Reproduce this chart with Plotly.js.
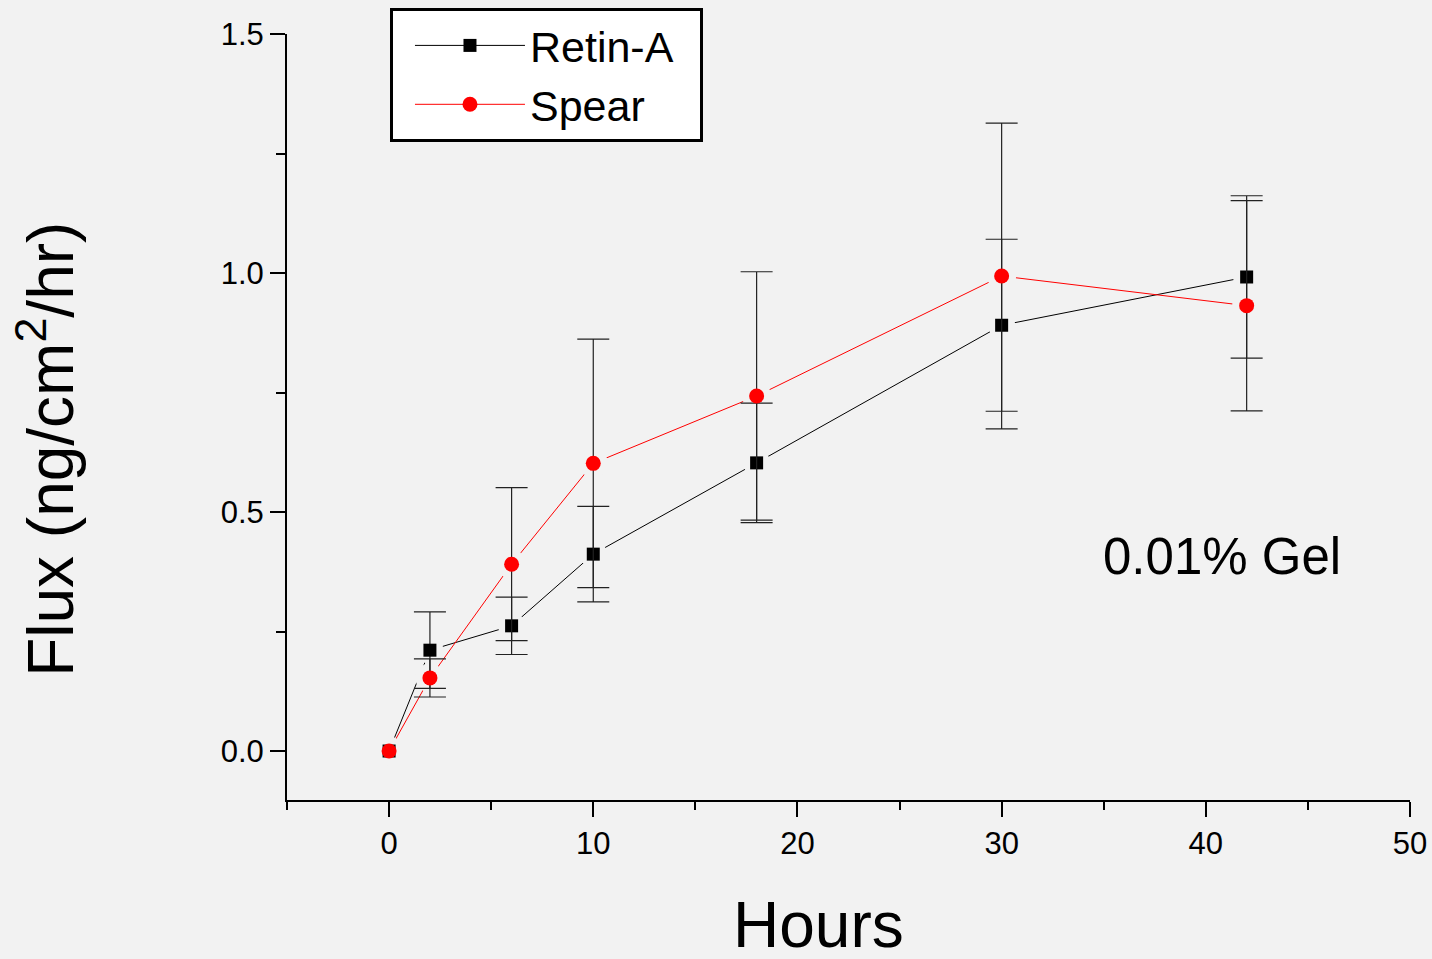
<!DOCTYPE html>
<html>
<head>
<meta charset="utf-8">
<script src="https://cdn.plot.ly/plotly-3.0.1.min.js"></script>
<style>
  html, body { margin: 0; padding: 0; background: #f2f2f2; }
  #chart { width: 1432px; height: 959px; }
</style>
</head>
<body>
<div id="chart"></div>
<script>
// ---- data ----
const hours = [0, 2, 6, 10, 18, 30, 42];
const retinA = [0, 0.211, 0.262, 0.412, 0.603, 0.891, 0.992];
const retinAErr = [NaN, 0.08, 0.06, 0.10, 0.125, 0.18, 0.17];
const spear = [0, 0.153, 0.391, 0.602, 0.743, 0.994, 0.932];
const spearErr = [NaN, 0.04, 0.16, 0.26, 0.26, 0.32, 0.22];
const seriesNames = ['Retin-A', 'Spear'];
const xTitle = 'Hours';
const yTitle = 'Flux (ng/cm<sup>2</sup>/hr)';
const noteText = '0.01% Gel';

const BG = '#f2f2f2';
const FONT = 'Arial, "Liberation Sans", sans-serif';
const PAD = '\u2002';

const traces = [
  // connecting lines (with markers, used for the legend)
  { x: hours, y: retinA, name: seriesNames[0] + PAD, mode: 'lines+markers',
    line: { color: '#000000', width: 1 },
    marker: { symbol: 'square', size: 13, color: '#000000' } },
  { x: hours, y: spear, name: seriesNames[1] + PAD, mode: 'lines+markers',
    line: { color: '#ff0000', width: 1 },
    marker: { symbol: 'circle', size: 15, color: '#ff0000' } },
  // halos giving the gap between line and marker
  { x: hours, y: retinA, mode: 'markers', showlegend: false, hoverinfo: 'skip',
    marker: { symbol: 'circle', size: 27, color: BG } },
  { x: hours, y: spear, mode: 'markers', showlegend: false, hoverinfo: 'skip',
    marker: { symbol: 'circle', size: 29, color: BG } },
  // markers with error bars
  { x: hours, y: retinA, mode: 'markers', showlegend: false,
    marker: { symbol: 'square', size: 13, color: '#000000' },
    error_y: { type: 'data', array: retinAErr, visible: true, color: '#222222', thickness: 1.2, width: 16 } },
  { x: hours, y: spear, mode: 'markers', showlegend: false,
    marker: { symbol: 'circle', size: 15, color: '#ff0000' },
    error_y: { type: 'data', array: spearErr, visible: true, color: '#222222', thickness: 1.2, width: 16 } }
];

const layout = {
  width: 1432, height: 959,
  paper_bgcolor: BG, plot_bgcolor: BG,
  font: { family: FONT, color: '#000000' },
  margin: { l: 287, r: 22, t: 34, b: 159, autoexpand: false },
  showlegend: true,
  legend: {
    x: 0.0917, y: 1.034, xanchor: 'left', yanchor: 'top',
    bgcolor: '#ffffff', bordercolor: '#000000', borderwidth: 3,
    font: { family: FONT, size: 43, color: '#000000' },
    itemwidth: 110, indentation: 17
  },
  xaxis: {
    range: [-5, 50], tick0: 0, dtick: 10,
    showgrid: false, zeroline: false,
    showline: true, linecolor: '#000000', linewidth: 2,
    ticks: 'outside', ticklen: 15, tickwidth: 2, tickcolor: '#000000',
    minor: { dtick: 5, tick0: 0, ticks: 'outside', ticklen: 8, tickwidth: 2, tickcolor: '#000000' },
    tickfont: { family: FONT, size: 31, color: '#000000' },
    automargin: false
  },
  yaxis: {
    range: [-0.1025, 1.5005], tick0: 0, dtick: 0.5, tickformat: '.1f',
    showgrid: false, zeroline: false,
    showline: true, linecolor: '#000000', linewidth: 2,
    ticks: 'outside', ticklen: 15, tickwidth: 2, tickcolor: '#000000',
    minor: { dtick: 0.25, tick0: 0, ticks: 'outside', ticklen: 9, tickwidth: 2, tickcolor: '#000000' },
    tickfont: { family: FONT, size: 31, color: '#000000' },
    automargin: false
  },
  annotations: [
    { x: 40.8, y: 0.408, xref: 'x', yref: 'y', text: noteText, showarrow: false,
      font: { family: FONT, size: 51, color: '#000000' } },
    { x: 0.4729, y: -0.163, xref: 'paper', yref: 'paper', text: xTitle, showarrow: false,
      xanchor: 'center', yanchor: 'middle',
      font: { family: FONT, size: 64, color: '#000000' } },
    { x: -0.214, y: 0.458, xref: 'paper', yref: 'paper', text: yTitle, showarrow: false,
      textangle: -90, xanchor: 'center', yanchor: 'middle',
      font: { family: FONT, size: 64, color: '#000000' } }
  ]
};

Plotly.newPlot('chart', traces, layout, { displayModeBar: false, staticPlot: true });
</script>
</body>
</html>
